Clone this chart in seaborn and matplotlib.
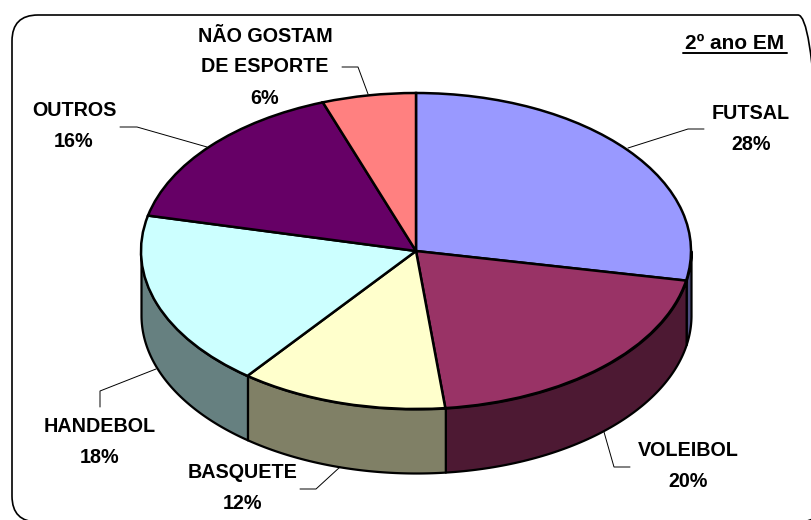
import numpy as np
import seaborn as sns
import matplotlib.pyplot as plt
from matplotlib.patches import FancyBboxPatch
from matplotlib.transforms import IdentityTransform

# data
names = ['FUTSAL', 'VOLEIBOL', 'BASQUETE', 'HANDEBOL', 'OUTROS', 'NÃO GOSTAM\nDE ESPORTE']
values = [28.0, 20.3, 12.2, 18.1, 15.9, 5.5]
pct_labels = ['28%', '20%', '12%', '18%', '16%', '6%']
top_colors = ['#9999FF', '#993366', '#FFFFCC', '#CCFFFF', '#660066', '#FF8080']
side_colors = ['#4D4D80', '#4D1933', '#808066', '#668080', '#330033', '#804040']
title = '2º ano EM'

# layout, in pixels of the 811x520 picture
W, H = 811, 520
cx, cy, rx, ry, depth = 416, 251, 275, 158, 64
label_pos = [(751, 129), (688, 466), (243, 488), (100, 442), (74, 126), (265, 67)]
leaders = [
    [(628, 148), (688, 129), (704, 129)],
    [(604, 432), (614, 467), (630, 467)],
    [(340, 467), (316, 489), (300, 489)],
    [(156, 369), (100, 391), (100, 407)],
    [(207, 147), (137, 127), (120, 127)],
    [(368, 94), (358, 67), (342, 67)],
]


def px(x, y):
    return (x - cx) / rx, (cy - y) / ry


sns.set_theme(style='white')
plt.rcParams['font.family'] = ['Liberation Sans', 'DejaVu Sans']

fig = plt.figure(figsize=(W / 100, H / 100), dpi=100)
ax = fig.add_axes([0, 0, 1, 1])

# side wall of the disc, only the part of each slice facing the viewer
edges = 90 - np.cumsum([0] + values) * 3.6
for start, end, col in zip(edges[:-1], edges[1:], sns.color_palette(side_colors)):
    lo, hi = max(end, -180), min(start, 0)
    if hi <= lo:
        continue
    t = np.radians(np.linspace(lo, hi, 80))
    ax.fill_between(np.cos(t), np.sin(t), np.sin(t) - depth / ry,
                    facecolor=col, edgecolor='black', linewidth=1.6, zorder=1)

wedges, _ = ax.pie(values, colors=sns.color_palette(top_colors), startangle=90,
                   counterclock=False, radius=1,
                   wedgeprops={'edgecolor': 'black', 'linewidth': 1.8, 'zorder': 2})
ax.set_aspect('auto')
ax.set_xlim(px(0, 0)[0], px(W, 0)[0])
ax.set_ylim(px(0, H)[1], px(0, 0)[1])

for name, pct, pos, line in zip(names, pct_labels, label_pos, leaders):
    x, y = px(*pos)
    ax.text(x, y, f'{name}\n{pct}', ha='center', va='center', fontsize=14.2,
            fontweight='bold', color='black', linespacing=1.8, zorder=5)
    pts = np.array([px(*p) for p in line])
    ax.plot(pts[:, 0], pts[:, 1], color='black', lw=0.7, zorder=1.5, clip_on=False)

x, y = px(735, 44)
ax.text(x, y, title, ha='center', va='center', fontsize=15, fontweight='bold', color='black')
ax.plot([px(683, 0)[0], px(787, 0)[0]], [px(0, 53)[1]] * 2, color='black', lw=1.4)

# rounded frame, runs off the right and bottom of the picture
r = 26
frame = FancyBboxPatch((12 + r, H - 522 + r), 812 - 2 * r, 507 - 2 * r,
                       boxstyle=f'round,pad={r},rounding_size={r}',
                       facecolor='none', edgecolor='black', linewidth=1.2,
                       transform=IdentityTransform())
fig.add_artist(frame)

fig.savefig('out.png', dpi=100)
